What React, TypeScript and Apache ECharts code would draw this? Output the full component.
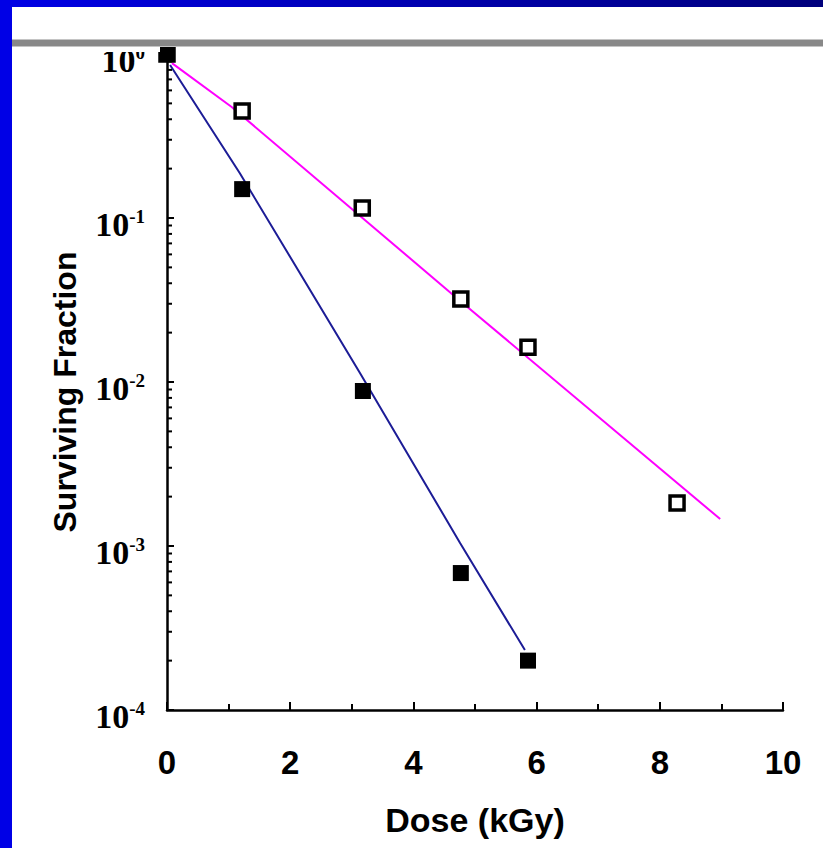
import React, { useEffect, useRef } from 'react';
import * as echarts from 'echarts';

const openDose = [0, 1.22, 3.17, 4.77, 5.86, 8.28];
const openSF = [1.0, 0.449, 0.115, 0.0321, 0.0163, 0.00183];
const filledDose = [0, 1.22, 3.18, 4.77, 5.86];
const filledSF = [1.0, 0.15, 0.00881, 0.000684, 0.0002];

// Fitted curves
const magentaFitDose = [0.08, 1.05, 4.77, 8.98];
const magentaFitSF = [0.88, 0.475, 0.031, 0.00146];
const blueFitDose = [0.05, 1.18, 3.13, 4.76, 5.81];
const blueFitSF = [0.857, 0.188, 0.0114, 0.00104, 0.000232];

// Axis labels
const xTickLabels = ['0', '2', '4', '6', '8', '10'];
const yTickExponents = [0, -1, -2, -3, -4];
const minorMultipliers = [2, 3, 4, 5, 6, 7, 8, 9];

const zip = (a: number[], b: number[]) => a.map((v, i) => [v, b[i]]);

export default function App() {
  const ref = useRef<HTMLDivElement>(null);
  useEffect(() => {
    if (!ref.current) return;
    const chart = echarts.init(ref.current, undefined, { renderer: 'svg' });
    const minExp = Math.min(...yTickExponents);
    const maxExp = Math.max(...yTickExponents);
    // y-axis tick marks: [x, value, length]
    const yTicks: number[][] = [];
    yTickExponents.forEach((e) => {
      yTicks.push([0, Math.pow(10, e), 7]);
      if (e > minExp) {
        minorMultipliers.forEach((m) => yTicks.push([0, m * Math.pow(10, e - 1), 5]));
      }
    });
    chart.setOption({
      animation: false,
      backgroundColor: '#ffffff',
      grid: { left: 167, right: 40, top: 54, bottom: 138 },
      xAxis: {
        type: 'value',
        min: 0,
        max: 10,
        interval: 2,
        name: 'Dose (kGy)',
        nameLocation: 'middle',
        nameGap: 93,
        nameTextStyle: { fontFamily: 'Liberation Sans', fontWeight: 'bold', fontSize: 34, color: '#000' },
        splitLine: { show: false },
        axisLine: { onZero: false, lineStyle: { color: '#000', width: 2.5 } },
        axisTick: { inside: true, length: 8, lineStyle: { color: '#000', width: 2 } },
        minorTick: { show: true, splitNumber: 2, length: 6, lineStyle: { color: '#000', width: 2 } },
        minorSplitLine: { show: false },
        axisLabel: {
          margin: 36,
          fontFamily: 'Liberation Sans',
          fontWeight: 'bold',
          fontSize: 33,
          color: '#000',
          formatter: (v: number) => xTickLabels[Math.round(v / 2)] ?? '',
        },
      },
      yAxis: {
        type: 'log',
        logBase: 10,
        min: Math.pow(10, minExp),
        max: Math.pow(10, maxExp),
        interval: 1,
        name: 'Surviving Fraction',
        nameLocation: 'middle',
        nameGap: 86,
        nameRotate: 90,
        nameTextStyle: {
          fontFamily: 'Liberation Sans',
          fontWeight: 'bold',
          fontSize: 32,
          color: '#000',
          padding: [0, 20, 0, 0],
        },
        splitLine: { show: false },
        axisLine: { lineStyle: { color: '#000', width: 2.5 } },
        axisTick: { show: false },
        axisLabel: {
          margin: 22,
          padding: [12, 0, 0, 0],
          formatter: (v: number) => `{b|10}{s|${Math.round(Math.log10(v))}}`,
          rich: {
            b: { fontFamily: 'Liberation Serif', fontWeight: 'bold', fontSize: 34, color: '#000', verticalAlign: 'bottom' },
            s: { fontFamily: 'Liberation Serif', fontWeight: 'bold', fontSize: 19, color: '#000', verticalAlign: 'top' },
          },
        },
      },
      graphic: [
        {
          type: 'rect',
          left: 0,
          top: 0,
          shape: { width: 823, height: 7 },
          style: {
            fill: new echarts.graphic.LinearGradient(0, 0, 1, 0, [
              { offset: 0, color: '#0000e6' },
              { offset: 1, color: '#00007c' },
            ]),
          },
          z: 100,
        },
        { type: 'rect', left: 0, top: 0, shape: { width: 12, height: 848 }, style: { fill: '#0000e6' }, z: 100 },
        { type: 'rect', left: 60, top: 7, shape: { width: 100, height: 45 }, style: { fill: '#ffffff' }, z: 99 },
        { type: 'rect', left: 12, top: 39, shape: { width: 811, height: 8 }, style: { fill: '#c4c4c4' }, z: 100 },
        { type: 'rect', left: 12, top: 40, shape: { width: 811, height: 6 }, style: { fill: '#888888' }, z: 101 },
      ],
      series: [
        {
          type: 'custom',
          data: yTicks,
          clip: false,
          silent: true,
          z: 5,
          renderItem: (_params: any, api: any) => {
            const p = api.coord([api.value(0), api.value(1)]);
            return {
              type: 'line',
              shape: { x1: p[0], y1: p[1], x2: p[0] + api.value(2), y2: p[1] },
              style: { stroke: '#000', lineWidth: 2 },
            };
          },
        },
        {
          type: 'line',
          data: zip(magentaFitDose, magentaFitSF),
          showSymbol: false,
          symbol: 'none',
          lineStyle: { color: '#ff00ff', width: 2 },
          z: 2,
        },
        {
          type: 'line',
          data: zip(blueFitDose, blueFitSF),
          showSymbol: false,
          symbol: 'none',
          lineStyle: { color: '#1c1c96', width: 2 },
          z: 2,
        },
        {
          type: 'scatter',
          data: zip(openDose, openSF),
          symbol: 'rect',
          symbolSize: 14,
          itemStyle: { color: '#ffffff', borderColor: '#000', borderWidth: 3.5, opacity: 1 },
          z: 3,
          clip: false,
        },
        {
          type: 'scatter',
          data: zip(filledDose, filledSF),
          symbol: 'rect',
          symbolSize: 16,
          itemStyle: { color: '#000000', opacity: 1 },
          z: 4,
          clip: false,
        },
      ],
    });
    return () => chart.dispose();
  }, []);
  return <div ref={ref} style={{ position: 'fixed', left: 0, top: 0, width: 823, height: 848 }} />;
}
